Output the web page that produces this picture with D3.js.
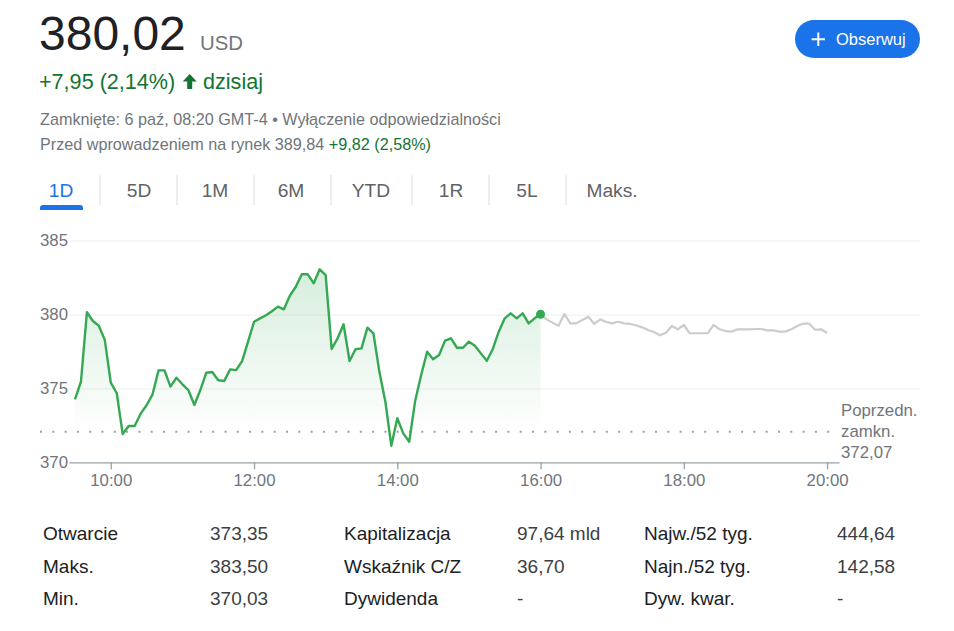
<!DOCTYPE html>
<html>
<head>
<meta charset="utf-8">
<script src="https://cdn.jsdelivr.net/npm/d3@7"></script>
<style>
  body { margin: 0; background: #fff; }
  svg text { font-family: Arial, "Liberation Sans", sans-serif; }
</style>
</head>
<body>
<svg width="954" height="631"></svg>
<script>
// kurs 5-minutowy, sesja 9:30 - 16:00
var sessionValues = [374.26, 375.45, 380.15, 379.56, 379.24, 378.27, 375.39, 374.67, 371.91, 372.46,
    372.46, 373.29, 373.86, 374.6, 376.22, 376.22, 375.12, 375.72, 375.28, 374.89,
    373.88, 374.89, 376.06, 376.11, 375.55, 375.5, 376.29, 376.24, 376.85, 378.16,
    379.51, 379.74, 379.95, 380.22, 380.53, 380.35, 381.27, 381.88, 382.72, 382.72,
    382.11, 383.06, 382.67, 377.67, 378.39, 379.34, 376.85, 377.65, 377.71, 379.11,
    378.73, 376.13, 374.1, 371.12, 372.98, 371.96, 371.39, 374.17, 375.91, 377.48,
    376.97, 377.26, 378.23, 378.39, 377.75, 377.75, 378.16, 377.89, 377.37, 376.87,
    377.67, 378.84, 379.74, 380.08, 379.74, 380.08, 379.4, 379.74, 380.02];

// po zamknieciu, 16:00 - 20:00
var afterValues = [380.02, 379.67, 379.45, 379.24, 380.03, 379.4, 379.4, 379.63, 379.85, 379.36,
    379.67, 379.49, 379.4, 379.51, 379.4, 379.36, 379.27, 379.13, 378.95, 378.82,
    378.59, 378.77, 379.22, 379.0, 379.29, 378.73, 378.73, 378.73, 378.73, 379.3,
    379.0, 378.88, 378.84, 379.0, 379.0, 379.0, 379.02, 379.02, 378.93, 378.93,
    378.84, 378.84, 379.0, 379.22, 379.38, 379.38, 378.97, 379.0, 378.75];

var prevClose = 372.07;
var yTicks = [370, 375, 380, 385];
var xTickHours = [10, 12, 14, 16, 18, 20];

var tabs = ["1D", "5D", "1M", "6M", "YTD", "1R", "5L", "Maks."];
var statLabels = [["Otwarcie", "Maks.", "Min."], ["Kapitalizacja", "Wskaźnik C/Z", "Dywidenda"], ["Najw./52 tyg.", "Najn./52 tyg.", "Dyw. kwar."]];
var statValues = [["373,35", "383,50", "370,03"], ["97,64 mld", "36,70", "-"], ["444,64", "142,58", "-"]];

var day = function (h, m) { return new Date(2023, 9, 6, h, m); };
var sessionStart = day(9, 30), afterStart = day(16, 0);
var session = sessionValues.map(function (v, i) { return { t: d3.timeMinute.offset(sessionStart, i * 5), v: v }; });
var after = afterValues.map(function (v, i) { return { t: d3.timeMinute.offset(afterStart, i * 5), v: v }; });

var svg = d3.select("svg");
var gray = "#70757a", green = "#137333", blue = "#1a73e8";

// naglowek
svg.append("text").attr("x", 39).attr("y", 50).attr("font-size", 48).attr("fill", "#202124").text("380,02");
svg.append("text").attr("x", 200).attr("y", 50).attr("font-size", 20.4).attr("fill", gray).text("USD");
svg.append("text").attr("x", 39).attr("y", 89).attr("font-size", 21.6).attr("fill", green).text("+7,95 (2,14%)");
svg.append("path").attr("d", "M189.7,74 L196.7,81.5 L192.2,81.5 L192.2,89 L187.2,89 L187.2,81.5 L182.7,81.5 Z").attr("fill", green);
svg.append("text").attr("x", 203).attr("y", 89).attr("font-size", 21.6).attr("fill", green).text("dzisiaj");
svg.append("text").attr("x", 40).attr("y", 125).attr("font-size", 16.2).attr("fill", gray)
    .text("Zamknięte: 6 paź, 08:20 GMT-4 • Wyłączenie odpowiedzialności");
var pre = svg.append("text").attr("x", 40).attr("y", 150).attr("font-size", 16.2).attr("fill", gray);
pre.append("tspan").text("Przed wprowadzeniem na rynek 389,84 ");
pre.append("tspan").attr("fill", green).text("+9,82 (2,58%)");

// przycisk
svg.append("rect").attr("x", 795).attr("y", 20).attr("width", 125).attr("height", 38).attr("rx", 19).attr("fill", blue);
svg.append("path").attr("d", "M811.6,39.3 H825 M818.3,32.6 V46").attr("stroke", "#fff").attr("stroke-width", 2);
svg.append("text").attr("x", 836).attr("y", 45).attr("font-size", 16.5).attr("fill", "#fff").text("Obserwuj");

// zakladki
var tabX = [61, 139, 215, 291, 371, 451, 527, 612];
var sepX = [100, 177, 254, 331, 412, 489, 566];
svg.selectAll(".tab").data(tabs).enter().append("text")
    .attr("class", "tab")
    .attr("x", function (d, i) { return tabX[i]; })
    .attr("y", 197)
    .attr("text-anchor", "middle")
    .attr("font-size", 19.2)
    .attr("fill", function (d, i) { return i === 0 ? blue : "#5f6368"; })
    .text(function (d) { return d; });
svg.selectAll(".sep").data(sepX).enter().append("line")
    .attr("x1", function (d) { return d; }).attr("x2", function (d) { return d; })
    .attr("y1", 175).attr("y2", 205).attr("stroke", "#dadce0");
svg.append("path").attr("d", "M40,210 V208 Q40,205 43,205 H80 Q83,205 83,208 V210 Z").attr("fill", blue);

// wykres
var x = d3.scaleTime().domain([day(9, 25), day(20, 10)]).range([69, 839]);
var y = d3.scaleLinear().domain([370, 385]).range([462.3, 240.6]);

var yAxis = svg.append("g")
    .attr("transform", "translate(920,0)")
    .call(d3.axisLeft(y).tickValues(yTicks).tickSize(851).tickPadding(1).tickFormat(d3.format("d")));
yAxis.select(".domain").remove();
yAxis.selectAll(".tick line").attr("stroke", function (d) { return d === 370 ? "none" : "#eeeeee"; });
yAxis.selectAll(".tick text").attr("font-size", 16.8).attr("fill", gray).attr("font-family", null);

var defs = svg.append("defs");
var grad = defs.append("linearGradient").attr("id", "fill").attr("gradientUnits", "userSpaceOnUse")
    .attr("x1", 0).attr("x2", 0).attr("y1", y(383)).attr("y2", y(372));
grad.append("stop").attr("offset", 0).attr("stop-color", "#34a853").attr("stop-opacity", 0.2);
grad.append("stop").attr("offset", 1).attr("stop-color", "#34a853").attr("stop-opacity", 0);

svg.append("path").datum(session)
    .attr("fill", "url(#fill)")
    .attr("d", d3.area().x(function (d) { return x(d.t); }).y0(y(370)).y1(function (d) { return y(d.v); }));

svg.append("line")
    .attr("x1", 40).attr("x2", 838).attr("y1", y(prevClose)).attr("y2", y(prevClose))
    .attr("stroke", "#9aa0a6").attr("stroke-width", 2).attr("stroke-dasharray", "2,10.3");

var line = d3.line().x(function (d) { return x(d.t); }).y(function (d) { return y(d.v); });
svg.append("path").datum(after).attr("fill", "none").attr("stroke", "#cccccc").attr("stroke-width", 2.2)
    .attr("stroke-linejoin", "round").attr("d", line);
svg.append("path").datum(session).attr("fill", "none").attr("stroke", "#34a853").attr("stroke-width", 2.4)
    .attr("stroke-linejoin", "round").attr("d", line);
var last = session[session.length - 1];
svg.append("circle").attr("cx", x(last.t)).attr("cy", y(last.v)).attr("r", 4.5).attr("fill", "#34a853");

var xAxis = svg.append("g")
    .attr("transform", "translate(0," + y(370) + ")")
    .call(d3.axisBottom(x).tickValues(xTickHours.map(function (h) { return day(h, 0); }))
        .tickSize(7).tickSizeOuter(0).tickPadding(5).tickFormat(d3.timeFormat("%H:%M")));
xAxis.select(".domain").attr("stroke", "#9aa0a6").attr("stroke-width", 1.3);
xAxis.selectAll(".tick line").attr("stroke", "#9aa0a6").attr("stroke-width", 1.3);
xAxis.selectAll(".tick text").attr("font-size", 16.8).attr("fill", gray).attr("font-family", null);

var prev = svg.append("text").attr("font-size", 16.8).attr("fill", gray);
["Poprzedn.", "zamkn.", d3.format(".2f")(prevClose).replace(".", ",")].forEach(function (s, i) {
    prev.append("tspan").attr("x", 841).attr("y", 416 + i * 21).text(s);
});

// tabela
statLabels.forEach(function (col, c) {
    col.forEach(function (s, r) {
        svg.append("text").attr("x", [43, 344, 644][c]).attr("y", 540 + r * 32.5)
            .attr("font-size", 19).attr("fill", "#202124").text(s);
        svg.append("text").attr("x", [210, 517, 837][c]).attr("y", 540 + r * 32.5)
            .attr("font-size", 19).attr("fill", "#3c4043").text(statValues[c][r]);
    });
});
</script>
</body>
</html>
